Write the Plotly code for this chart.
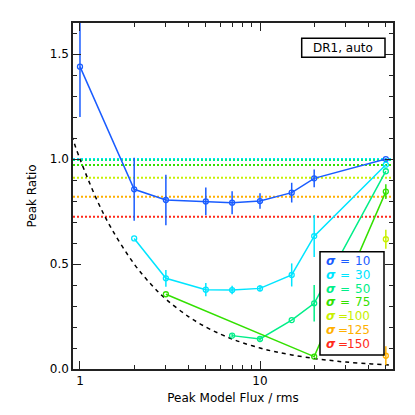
import plotly.graph_objects as go

# Peak ratio vs. peak model flux, one series per smoothing sigma
sigmas = [10, 30, 50, 75, 100, 125, 150]
colors = ["#1a5cff", "#00e5ff", "#00ee88", "#33e000", "#c8f000", "#ffb000", "#ff2a1a"]

sig10_x = [1, 2, 3, 5, 7, 10, 15, 20, 50]
sig10_y = [1.44, 0.856, 0.805, 0.798, 0.792, 0.800, 0.840, 0.908, 1.0]
sig10_err = [0.24, 0.15, 0.12, 0.066, 0.055, 0.037, 0.047, 0.042, 0.0]

sig30_x = [2, 3, 5, 7, 10, 15, 20, 50]
sig30_y = [0.622, 0.432, 0.378, 0.376, 0.384, 0.448, 0.633, 0.973]
sig30_err = [0.0, 0.04, 0.032, 0.02, 0.015, 0.055, 0.1, 0.0]

sig50_x = [7, 10, 15, 20, 50]
sig50_y = [0.159, 0.143, 0.233, 0.313, 0.942]
sig50_err = [0.008, 0.008, 0.0, 0.087, 0.0]

sig75_x = [3, 20, 50]
sig75_y = [0.356, 0.059, 0.845]
sig75_err = [0.0, 0.0, 0.035]

sig100_x = [50]
sig100_y = [0.618]
sig100_err = [0.045]

sig125_x = [50]
sig125_y = [0.063]
sig125_err = [0.045]

sig150_x = []
sig150_y = []
sig150_err = []

# asymptotic level for each sigma (dotted lines)
levels = [1.0, 1.0, 0.996, 0.972, 0.911, 0.820, 0.725]

# dashed reference curve
curve_x = [0.9, 1.0, 1.25, 1.5, 2, 2.5, 3, 4, 5, 6, 7, 8, 10, 12, 15, 20, 25, 30, 40, 50, 55]
curve_y = [1.11, 1.0, 0.80, 0.667, 0.50, 0.40, 0.333, 0.25, 0.20, 0.167, 0.143, 0.125,
           0.10, 0.083, 0.067, 0.05, 0.04, 0.033, 0.025, 0.02, 0.018]

series = [
    (sig10_x, sig10_y, sig10_err),
    (sig30_x, sig30_y, sig30_err),
    (sig50_x, sig50_y, sig50_err),
    (sig75_x, sig75_y, sig75_err),
    (sig100_x, sig100_y, sig100_err),
    (sig125_x, sig125_y, sig125_err),
    (sig150_x, sig150_y, sig150_err),
]

FONT = "DejaVu Sans"
XMIN, XMAX = 0.9145, 54.8

fig = go.Figure()

for lev, col in zip(levels, colors):
    fig.add_trace(go.Scatter(
        x=[XMIN, XMAX], y=[lev, lev], mode="lines",
        line=dict(color=col, width=2, dash="2px,2px"),
        showlegend=False, hoverinfo="skip"
    ))

fig.add_trace(go.Scatter(
    x=curve_x, y=curve_y, mode="lines",
    line=dict(color="black", width=1.5, dash="4px,4px", shape="spline"),
    showlegend=False
))

for (xs, ys, errs), col in zip(series, colors):
    if not xs:
        continue
    fig.add_trace(go.Scatter(
        x=xs, y=ys, mode="lines+markers",
        line=dict(color=col, width=1.5),
        marker=dict(symbol="circle-open", size=5, color=col, line=dict(width=1.3, color=col)),
        error_y=dict(type="data", array=errs, visible=True, color=col, thickness=1.5, width=0),
        showlegend=False
    ))

# plot area in screen pixels: x 73..393, y 23..369 (page has an 8px body margin)
def px(x):
    return (x - 73) / 320

def py(y):
    return (369 - y) / 346

shapes = [
    dict(type="rect", xref="paper", yref="paper", x0=px(320), x1=px(384), y0=py(355), y1=py(251.7),
         line=dict(color="black", width=1.5), fillcolor="white", layer="above"),
    dict(type="rect", xref="paper", yref="paper", x0=px(301.7), x1=px(385), y0=py(57.3), y1=py(38.3),
         line=dict(color="black", width=1.5), fillcolor="white", layer="above"),
]

annotations = [
    dict(text="DR1, auto", xref="paper", yref="paper", x=px(343.3), y=py(47.8),
         xanchor="center", yanchor="middle",
         showarrow=False, font=dict(family=FONT, size=12, color="black")),
]
for i, (s, col) in enumerate(zip(sigmas, colors)):
    row = py(260.7 + i * 13.93)
    annotations.append(dict(text="<b><i>σ</i></b>", xref="paper", yref="paper", x=px(324), y=row,
                            xanchor="left", yanchor="middle", showarrow=False,
                            font=dict(family=FONT, size=12, color=col)))
    annotations.append(dict(text="=", xref="paper", yref="paper", x=px(344.5 if s < 100 else 343), y=row,
                            xanchor="center", yanchor="middle", showarrow=False,
                            font=dict(family=FONT, size=12, color=col)))
    annotations.append(dict(text=str(s), xref="paper", yref="paper", x=px(372), y=row,
                            xanchor="right", yanchor="middle", showarrow=False,
                            font=dict(family=FONT, size=12, color=col)))

fig.update_layout(
    width=407, height=407,
    margin=dict(l=65, r=22, t=15, b=46),
    paper_bgcolor="white", plot_bgcolor="white",
    font=dict(family=FONT, size=12, color="black"),
    showlegend=False,
    shapes=shapes,
    annotations=annotations,
    xaxis=dict(
        type="log", range=[-0.0388, 1.7388],
        tickvals=[1, 10], ticktext=["1", "10"],
        ticks="inside", ticklen=8, tickwidth=1, tickcolor="#222",
        minor=dict(tickvals=[2, 3, 4, 5, 6, 7, 8, 9, 20, 30, 40, 50], ticks="inside",
                   ticklen=4, tickcolor="#222", tickwidth=1),
        showline=True, linecolor="#222", linewidth=1.5, mirror="allticks",
        showgrid=False, zeroline=False,
        title=dict(text="Peak Model Flux / rms", standoff=6, font=dict(size=12)),
        tickfont=dict(size=12),
    ),
    yaxis=dict(
        range=[0, 1.648],
        tickvals=[0, 0.5, 1.0, 1.5], ticktext=["0.0", "0.5", "1.0", "1.5"],
        ticks="inside", ticklen=8, tickwidth=1, tickcolor="#222",
        minor=dict(dtick=0.1, ticks="inside", ticklen=4, tickcolor="#222", tickwidth=1),
        showline=True, linecolor="#222", linewidth=1.5, mirror="allticks",
        showgrid=False, zeroline=False,
        title=dict(text="Peak Ratio", standoff=11, font=dict(size=12)),
        tickfont=dict(size=12),
    ),
)

fig.write_html("out.html")
